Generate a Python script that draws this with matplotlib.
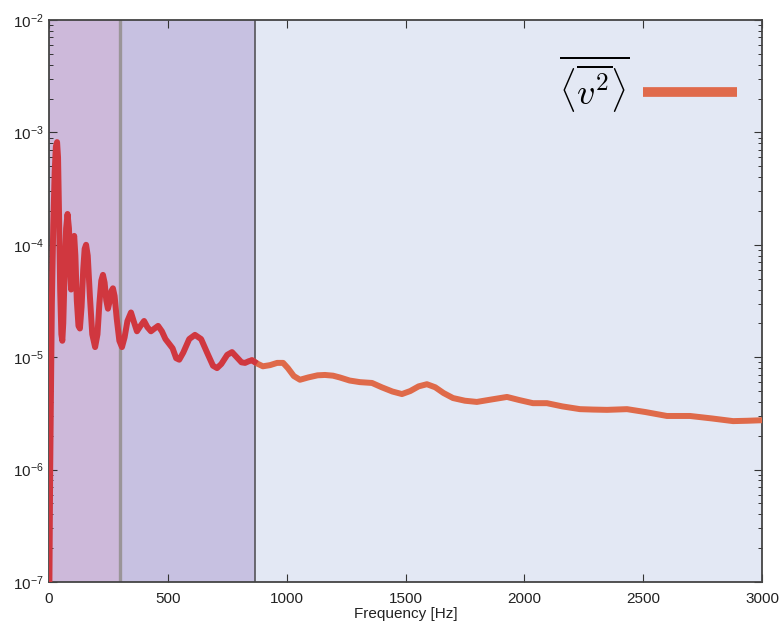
import numpy as np
import matplotlib
matplotlib.use("Agg")
import matplotlib.pyplot as plt
from matplotlib.lines import Line2D
from matplotlib.ticker import FixedLocator, FuncFormatter, LogLocator

plt.rcParams['font.family'] = ['Liberation Sans', 'DejaVu Sans']
plt.rcParams['mathtext.fontset'] = 'cm'

# spectrum of <v^2>, read as (Hz, value)
freq = [0, 5, 12, 18, 24, 29, 34, 38, 42, 47, 52, 56, 60, 66, 72, 78, 84, 89, 93, 97,
        102, 106, 111, 117, 124, 130, 137, 144, 150, 156, 163, 172, 182, 194, 204,
        212, 220, 227, 234, 241, 248, 256, 263, 269, 276, 285, 296, 307, 318, 330,
        345, 356, 370, 385, 400, 414, 429, 444, 459, 475, 490, 505, 520, 535, 548,
        565, 590, 614, 640, 665, 690, 707, 725, 750, 770, 790, 810, 825, 840, 854,
        875, 900, 930, 960, 985, 1005, 1030, 1056, 1090, 1130, 1161, 1195, 1224,
        1265, 1308, 1359, 1400, 1445, 1485, 1520, 1555, 1590, 1625, 1660, 1700,
        1750, 1800, 1860, 1927, 1980, 2036, 2095, 2160, 2234, 2290, 2348, 2432,
        2510, 2600, 2697, 2790, 2878, 2940, 3000]
psd = [3e-8, 1e-6, 3e-5, 1.5e-4, 4.5e-4, 7.5e-4, 8.2e-4, 6e-4, 2e-4, 4e-5, 1.6e-5,
       1.4e-5, 2e-5, 6e-5, 1.4e-4, 1.88e-4, 1.4e-4, 6e-5, 4e-5, 6e-5,
       1.05e-4, 1.2e-4, 8e-5, 3.2e-5, 1.9e-5, 1.8e-5, 2.8e-5, 6e-5, 9.2e-5, 1.0e-4,
       8e-5, 3.5e-5, 1.6e-5, 1.23e-5, 1.6e-5,
       3e-5, 4.8e-5, 5.4e-5, 4.6e-5, 3.2e-5, 2.7e-5, 3.2e-5, 3.9e-5, 4.1e-5, 3.5e-5,
       2.2e-5, 1.4e-5, 1.23e-5, 1.5e-5, 2.1e-5,
       2.5e-5, 2.1e-5, 1.7e-5, 1.9e-5, 2.1e-5, 1.85e-5, 1.7e-5, 1.8e-5, 1.9e-5,
       1.7e-5, 1.45e-5, 1.32e-5, 1.2e-5, 9.8e-6, 9.5e-6,
       1.1e-5, 1.45e-5, 1.58e-5, 1.45e-5, 1.1e-5, 8.4e-6, 8.0e-6, 8.7e-6, 1.05e-5,
       1.11e-5, 1.0e-5, 9.0e-6, 8.9e-6, 9.2e-6, 9.4e-6,
       8.8e-6, 8.3e-6, 8.5e-6, 8.9e-6, 8.9e-6, 8.0e-6, 6.8e-6, 6.3e-6, 6.6e-6, 6.9e-6,
       6.95e-6, 6.85e-6, 6.6e-6,
       6.2e-6, 6.0e-6, 5.9e-6, 5.4e-6, 4.95e-6, 4.7e-6, 5.0e-6, 5.5e-6, 5.75e-6,
       5.4e-6, 4.8e-6, 4.33e-6,
       4.1e-6, 4.0e-6, 4.2e-6, 4.43e-6, 4.15e-6, 3.9e-6, 3.9e-6, 3.65e-6, 3.45e-6,
       3.42e-6, 3.4e-6, 3.45e-6,
       3.25e-6, 3.0e-6, 3.0e-6, 2.85e-6, 2.7e-6, 2.72e-6, 2.75e-6]

band_edges = [0, 300, 867, 3000]
band_colors = ['#cdb9da', '#c7c1e1']

fig = plt.figure(figsize=(7.79, 6.25), dpi=100)
ax = fig.add_axes([0.0629, 0.0688, 0.9153, 0.8992])
ax.set_facecolor('#e3e8f4')

ax.axvspan(band_edges[0], band_edges[1], color=band_colors[0], lw=0, zorder=0)
ax.axvspan(band_edges[1], band_edges[2], color=band_colors[1], lw=0, zorder=0)
ax.axvline(band_edges[1], color='#9a9598', lw=2.4, zorder=1)
ax.axvline(band_edges[2], color='#555459', lw=1.2, zorder=1)

# red inside the low bands, orange beyond the second edge
freq = np.array(freq)
psd = np.array(psd)
cut = np.searchsorted(freq, band_edges[2])
ax.plot(freq[cut - 1:], psd[cut - 1:], color='#df6a4a', lw=4.3,
        solid_joinstyle='round', solid_capstyle='round', zorder=3)
ax.plot(freq[:cut + 1], psd[:cut + 1], color='#d0373f', lw=4.3,
        solid_joinstyle='round', solid_capstyle='butt', zorder=3)

ax.set_yscale('log')
ax.set_xlim(0, 3000)
ax.set_ylim(1e-7, 1e-2)
ax.xaxis.set_major_locator(FixedLocator([0, 500, 1000, 1500, 2000, 2500, 3000]))
ax.yaxis.set_major_locator(LogLocator(base=10, numticks=10))
ax.yaxis.set_minor_locator(LogLocator(base=10, subs=np.arange(2, 10), numticks=10))
ax.yaxis.set_major_formatter(FuncFormatter(lambda v, p: r'$\mathregular{10^{%d}}$' % round(np.log10(v))))
ax.tick_params(which='both', direction='in', top=True, right=True, colors='#333333',
               labelcolor='#222222', labelsize=11)
ax.tick_params(which='major', length=6, width=0.8)
ax.tick_params(which='minor', length=3, width=0.7)
ax.tick_params(axis='x', pad=7)
for s in ax.spines.values():
    s.set_color('#444444')
    s.set_linewidth(1.3)

ax.set_xlabel('Frequency [Hz]', fontsize=11, labelpad=1, color='#222222')

handle = Line2D([], [], color='#e06a4b', lw=7, solid_capstyle='butt')
ax.legend([handle], [r'$\overline{\langle\overline{v^2}\rangle}$'], loc='upper right',
          bbox_to_anchor=(1.01, 0.997), frameon=False, markerfirst=False,
          fontsize=26, handlelength=2.6, handletextpad=0.35)

fig.savefig('out.png', dpi=100)
